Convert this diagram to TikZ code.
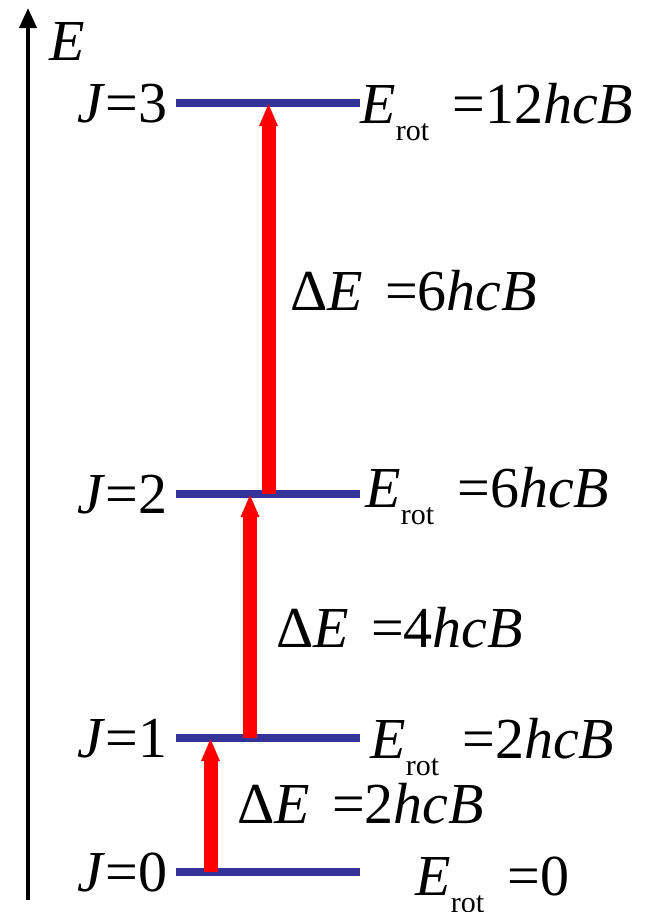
\documentclass[tikz,border=0pt]{standalone}
\usepackage{fontspec}
\setmainfont{Liberation Serif}
\usetikzlibrary{arrows.meta}
\definecolor{LevelBlue}{RGB}{51,51,153}
\tikzset{
  lvline/.style={line width=3.75pt, LevelBlue},
  trans/.style={-{Triangle[length=11.5pt, width=8.5pt]}, line width=7pt, red},
  eaxis/.style={-{Triangle[length=10pt, width=8.5pt]}, line width=2pt, black},
  lbl/.style={font=\fontsize{29}{34}\selectfont, inner sep=0pt},
}
\newcommand{\Erot}{\textit{E}\raisebox{-8.5pt}{\fontsize{15}{18}\selectfont rot}\hspace{0.4em}}
\newcommand{\dE}{Δ\textit{E}\hspace{0.38em}}

\begin{document}
\begin{tikzpicture}[x=0.5pt, y=-0.5pt]
  \useasboundingbox (0,0) rectangle (650,912);
  % energy axis
  \coordinate (ax0) at (28,900);
  \coordinate (ax1) at (28,8);
  \draw[eaxis] (ax0) -- (ax1);
  \node[lbl, anchor=base west] (Elab) at (49,60) {\textit{E}};
  % levels J=0..3
  \foreach \j/\y in {0/872,1/738,2/494,3/103} {
    \coordinate (a\j) at (176,\y);
    \coordinate (b\j) at (360,\y);
    \draw[lvline] (a\j) -- (b\j);
    \node[lbl, anchor=base east] (J\j) at (168,\y+19) {\textit{J}=\j};
  }
  % transitions
  \foreach \lo/\hi/\x in {0/1/210.5, 1/2/250, 2/3/268.5}
    \draw[trans] (\x,0 |- a\lo) -- (\x,0 |- a\hi);
  % rotational energies
  \node[lbl, anchor=base west] (rot3) at (360,123) {\Erot=12\textit{hcB}};
  \node[lbl, anchor=base west] (rot2) at (365,507) {\Erot=6\textit{hcB}};
  \node[lbl, anchor=base west] (rot1) at (370,758) {\Erot=2\textit{hcB}};
  \node[lbl, anchor=base west] (rot0) at (415,895) {\Erot=0};
  % gaps
  \node[lbl, anchor=base west] (dE23) at (290,310) {\dE=6\textit{hcB}};
  \node[lbl, anchor=base west] (dE12) at (276,647) {\dE=4\textit{hcB}};
  \node[lbl, anchor=base west] (dE01) at (237,823) {\dE=2\textit{hcB}};
\end{tikzpicture}
\end{document}
